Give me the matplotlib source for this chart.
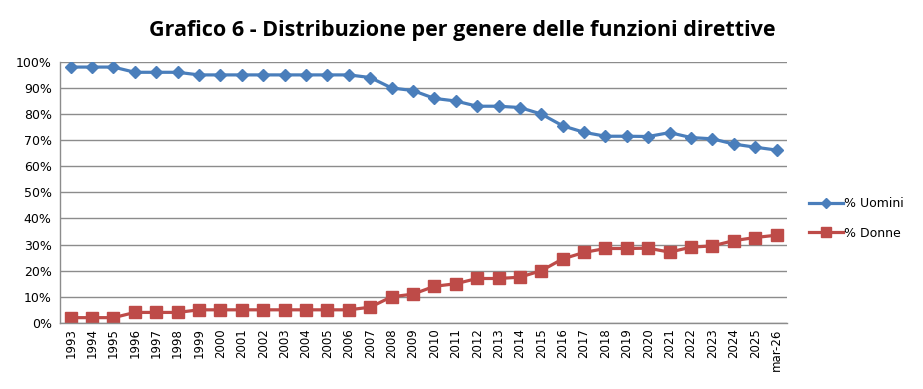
import matplotlib.pyplot as plt
from matplotlib.ticker import FuncFormatter

# categories and values
anni = ['1993', '1994', '1995', '1996', '1997', '1998', '1999', '2000', '2001', '2002',
        '2003', '2004', '2005', '2006', '2007', '2008', '2009', '2010', '2011', '2012',
        '2013', '2014', '2015', '2016', '2017', '2018', '2019', '2020', '2021', '2022',
        '2023', '2024', '2025', 'mar-26']
uomini = [98, 98, 98, 96, 96, 96, 95, 95, 95, 95,
          95, 95, 95, 95, 94, 90, 89, 86, 85, 83,
          83, 82.5, 80, 75.5, 73, 71.5, 71.5, 71.4, 72.9, 71,
          70.5, 68.5, 67.3, 66.2]
donne = [2, 2, 2, 4, 4, 4, 5, 5, 5, 5,
         5, 5, 5, 5, 6, 10, 11, 14, 15, 17,
         17, 17.5, 20, 24.5, 27, 28.5, 28.5, 28.6, 27.1, 29,
         29.5, 31.5, 32.7, 33.6]

fig = plt.figure(figsize=(9.23, 3.89), dpi=100)
ax = fig.add_axes([0.065, 0.170, 0.788, 0.671])

x = range(len(anni))
ax.plot(x, uomini, color='#4a7ebb', linewidth=2.3, marker='D', markersize=6.5,
        label='% Uomini')
ax.plot(x, donne, color='#be4b48', linewidth=2.3, marker='s', markersize=8.5,
        label='% Donne')

ax.set_xlim(-0.5, len(anni) - 0.5)
ax.set_ylim(0, 100)
ax.set_yticks(range(0, 101, 10))
ax.yaxis.set_major_formatter(FuncFormatter(lambda v, p: '%d%%' % v))
ax.set_xticks(list(x))
ax.set_xticklabels(anni, rotation=90, fontsize=8.5)
ax.tick_params(axis='y', labelsize=9, length=0, pad=6)
ax.tick_params(axis='x', length=0, pad=4)

ax.grid(axis='y', color='#8c8c8c', linewidth=1.0)
ax.set_axisbelow(True)
for s in ['top', 'right']:
    ax.spines[s].set_visible(False)
ax.spines['left'].set_color('#8c8c8c')
ax.spines['bottom'].set_color('#8c8c8c')
ax.spines['left'].set_linewidth(1.0)
ax.spines['bottom'].set_linewidth(1.0)

leg = ax.legend(loc='center left', bbox_to_anchor=(1.015, 0.40), frameon=False,
                fontsize=9, handlelength=2.7, handletextpad=0.1, labelspacing=1.3,
                markerscale=0.8)

fig.suptitle('Grafico 6 - Distribuzione per genere delle funzioni direttive',
             x=0.501, y=0.948, fontsize=15.5, fontweight='bold', family='Open Sans')

fig.savefig('out.png', dpi=100)
